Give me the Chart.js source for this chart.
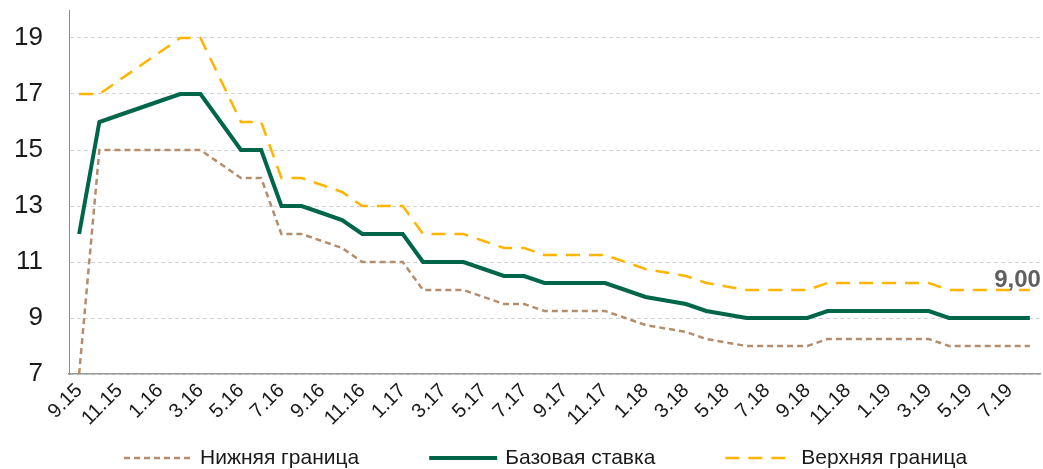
<!DOCTYPE html>
<html>
<head>
<meta charset="utf-8">
<script src="https://cdn.jsdelivr.net/npm/chart.js@4/dist/chart.umd.min.js"></script>
<style>
    html, body { margin: 0; padding: 0; background: #fff; }
    #wrap { width: 1043px; height: 469px; position: relative; }
</style>
</head>
<body>
<div id="wrap"><canvas id="rateChart"></canvas></div>
<script>
// Months (m.yy), one point per month
const months = [
    '9.15', '10.15', '11.15', '12.15',
    '1.16', '2.16', '3.16', '4.16', '5.16', '6.16', '7.16', '8.16', '9.16', '10.16', '11.16', '12.16',
    '1.17', '2.17', '3.17', '4.17', '5.17', '6.17', '7.17', '8.17', '9.17', '10.17', '11.17', '12.17',
    '1.18', '2.18', '3.18', '4.18', '5.18', '6.18', '7.18', '8.18', '9.18', '10.18', '11.18', '12.18',
    '1.19', '2.19', '3.19', '4.19', '5.19', '6.19', '7.19', '8.19'
];

const lowerBound = [
    7, 15, 15, 15,
    15, 15, 15, 14.5, 14, 14, 12, 12, 11.75, 11.5, 11, 11,
    11, 10, 10, 10, 9.75, 9.5, 9.5, 9.25, 9.25, 9.25, 9.25, 9,
    8.75, 8.625, 8.5, 8.25, 8.125, 8, 8, 8, 8, 8.25, 8.25, 8.25,
    8.25, 8.25, 8.25, 8, 8, 8, 8, 8
];

const baseRate = [
    12, 16, 16.25, 16.5,
    16.75, 17, 17, 16, 15, 15, 13, 13, 12.75, 12.5, 12, 12,
    12, 11, 11, 11, 10.75, 10.5, 10.5, 10.25, 10.25, 10.25, 10.25, 10,
    9.75, 9.625, 9.5, 9.25, 9.125, 9, 9, 9, 9, 9.25, 9.25, 9.25,
    9.25, 9.25, 9.25, 9, 9, 9, 9, 9
];

const upperBound = [
    17, 17, 17.5, 18,
    18.5, 19, 19, 17.5, 16, 16, 14, 14, 13.75, 13.5, 13, 13,
    13, 12, 12, 12, 11.75, 11.5, 11.5, 11.25, 11.25, 11.25, 11.25, 11,
    10.75, 10.625, 10.5, 10.25, 10.125, 10, 10, 10, 10, 10.25, 10.25, 10.25,
    10.25, 10.25, 10.25, 10, 10, 10, 10, 10
];

const yTicks = [7, 9, 11, 13, 15, 17, 19];
const lastLabel = '9,00';

const FONT = "Arial, 'Liberation Sans', sans-serif";

// label over the last base-rate point
const lastValuePlugin = {
    id: 'lastValue',
    afterDatasetsDraw(chart) {
        const meta = chart.getDatasetMeta(1);
        const pt = meta.data[meta.data.length - 1];
        const ctx = chart.ctx;
        ctx.save();
        ctx.font = 'bold 24px ' + FONT;
        ctx.fillStyle = '#5f5f5f';
        ctx.textAlign = 'right';
        ctx.textBaseline = 'middle';
        ctx.fillText(lastLabel, pt.x + 11, pt.y - 38);
        ctx.restore();
    }
};

// legend with long line samples, drawn under the axis labels
const lineLegendPlugin = {
    id: 'lineLegend',
    afterDraw(chart) {
        const ctx = chart.ctx;
        const sample = 68, gap = 8, itemGap = 70;
        let x = 124;
        const y = 458;
        ctx.save();
        ctx.font = '21px ' + FONT;
        ctx.textBaseline = 'middle';
        ctx.textAlign = 'left';
        chart.data.datasets.forEach(ds => {
            ctx.beginPath();
            ctx.strokeStyle = ds.borderColor;
            ctx.lineWidth = ds.borderWidth;
            ctx.setLineDash(ds.borderDash || []);
            ctx.moveTo(x, y);
            ctx.lineTo(x + sample, y);
            ctx.stroke();
            ctx.setLineDash([]);
            ctx.fillStyle = '#1a1a1a';
            ctx.fillText(ds.label, x + sample + gap, y);
            x += sample + gap + ctx.measureText(ds.label).width + itemGap;
        });
        ctx.restore();
    }
};

const ctx = document.getElementById('rateChart').getContext('2d');
new Chart(ctx, {
    type: 'line',
    data: {
        labels: months,
        datasets: [
            {
                label: 'Нижняя граница',
                data: lowerBound,
                borderColor: '#b48e6c',
                borderWidth: 2.5,
                borderDash: [6, 4]
            },
            {
                label: 'Базовая ставка',
                data: baseRate,
                borderColor: '#00664a',
                borderWidth: 4
            },
            {
                label: 'Верхняя граница',
                data: upperBound,
                borderColor: '#ffb400',
                borderWidth: 2.5,
                borderDash: [14, 9]
            }
        ]
    },
    options: {
        responsive: true,
        maintainAspectRatio: false,
        animation: false,
        layout: {
            padding: { left: 0, right: 3, top: 10, bottom: 0 }
        },
        elements: {
            point: { radius: 0 },
            line: { tension: 0, fill: false }
        },
        plugins: {
            legend: { display: false },
            tooltip: { enabled: false }
        },
        scales: {
            x: {
                offset: true,
                grid: { display: false, drawTicks: false },
                border: { display: true, color: '#999999', width: 1.5 },
                ticks: {
                    autoSkip: false,
                    minRotation: 45,
                    maxRotation: 45,
                    padding: 5,
                    color: '#1a1a1a',
                    font: { family: FONT, size: 20 },
                    callback: function(value, index) {
                        return index % 2 === 0 ? months[index] : '';
                    }
                },
                afterFit: function(scale) {
                    // room for the rotated labels and the legend row below
                    scale.height = 95;
                    scale.paddingLeft = 0;
                    scale.paddingRight = 0;
                }
            },
            y: {
                min: 7,
                max: 20,
                grid: {
                    drawTicks: false,
                    color: '#d4d4d4',
                    lineWidth: 1
                },
                border: { display: true, color: '#8c8c8c', width: 1, dash: [4, 3] },
                ticks: {
                    padding: 26,
                    color: '#1a1a1a',
                    font: { family: FONT, size: 26 }
                },
                afterBuildTicks: function(scale) {
                    scale.ticks = yTicks.map(v => ({ value: v }));
                },
                afterFit: function(scale) {
                    scale.width = 69;
                    scale.paddingTop = 0;
                    scale.paddingBottom = 0;
                }
            }
        }
    },
    plugins: [lastValuePlugin, lineLegendPlugin]
});
</script>
</body>
</html>
